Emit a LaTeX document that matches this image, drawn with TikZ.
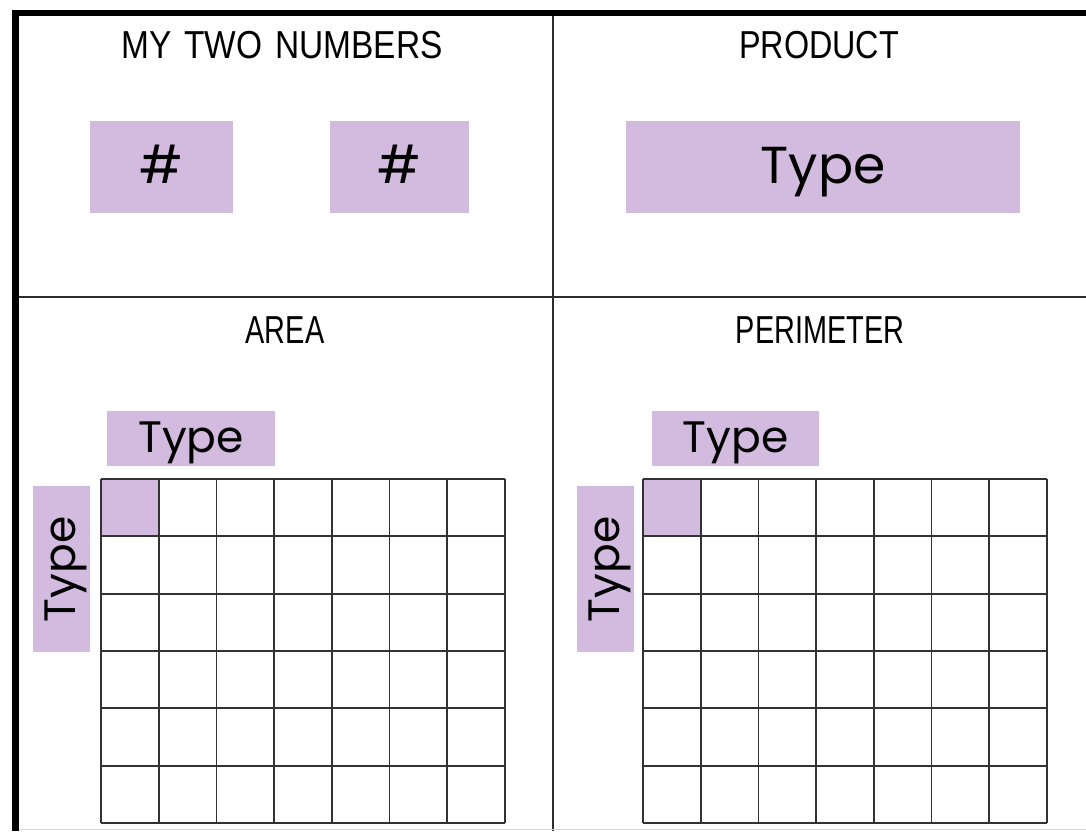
\documentclass[tikz,border=0pt]{standalone}
\usepackage{fontspec}
\setmainfont{Poppins}
\newfontfamily\headfont{Liberation Sans}
\definecolor{lav}{RGB}{211,187,224}
\definecolor{gridc}{RGB}{50,50,50}
\definecolor{divc}{RGB}{45,45,45}
\tikzset{
  box/.style={fill=lav, inner sep=0pt, anchor=north west},
  head/.style={font=\headfont\fontsize{39}{39}\selectfont, xscale=0.74, anchor=base, inner sep=0pt},
  bigtype/.style={font=\fontsize{52}{52}\selectfont, anchor=base, inner sep=0pt},
  smalltype/.style={font=\fontsize{44}{44}\selectfont, anchor=base, inner sep=0pt},
  gridline/.style={draw=gridc, line width=1.8pt},
  divider/.style={draw=divc, line width=2.6pt},
  border/.style={draw=black, line width=6.5pt, line join=miter}
}
\begin{document}
\begin{tikzpicture}[x=1pt,y=-1pt]
\useasboundingbox (0,0) rectangle (1086,831);
\fill[white] (0,0) rectangle (1086,831);

% dividers
\coordinate (vt) at (553,13);
\coordinate (vb) at (553,831);
\coordinate (hl) at (15,297);
\coordinate (hr) at (1086,297);
\draw[divider] (vt) -- (vb);
\draw[divider] (hl) -- (hr);
\draw[black!15, line width=1pt] (19,829.5) -- (1086,829.5);

% border
\coordinate (bl) at (15.5,831);
\coordinate (tl) at (15.5,13);
\coordinate (tr) at (1086,13);
\draw[border] (bl) -- (tl) -- (tr);

% headings
\node[head, xscale=1.16] (h1) at (282,58) {MY\hspace{4pt} TWO\hspace{4pt} NUMBERS};
\node[head, xscale=1.12] (h2) at (819,58) {PRODUCT};
\node[head] (h3) at (285,343) {AREA};
\node[head] (h4) at (820,343) {PERIMETER};

% top boxes
\node[box, minimum width=143pt, minimum height=92pt] (n1) at (90,121) {};
\node[box, minimum width=139pt, minimum height=92pt] (n2) at (330,121) {};
\node[box, minimum width=394pt, minimum height=92pt] (p) at (626,121) {};
\node[bigtype] (n1t) at ([yshift=-16pt]n1.center) {\#};
\node[bigtype] (n2t) at ([yshift=-16pt]n2.center) {\#};
\node[bigtype] (pt) at ([yshift=-16pt]p.center) {Type};

% area labels
\node[box, minimum width=168pt, minimum height=55pt] (at) at (107,411) {};
\node[smalltype] (att) at ([yshift=-14pt]at.center) {Type};
\node[box, minimum width=57pt, minimum height=166pt] (al) at (33,486) {};
\node[smalltype, rotate=90] (alt) at ([xshift=14pt]al.center) {Type};

% perimeter labels
\node[box, minimum width=167pt, minimum height=55pt] (pt2) at (652,411) {};
\node[smalltype] (ptt) at ([yshift=-14pt]pt2.center) {Type};
\node[box, minimum width=57pt, minimum height=166pt] (pl) at (577,486) {};
\node[smalltype, rotate=90] (plt) at ([xshift=14pt]pl.center) {Type};

% grids
\fill[lav] (101,479) rectangle ++(57.714,57.333);
\fill[lav] (643,479) rectangle ++(57.714,57.333);
\foreach \gx in {101,643}{
  \foreach \i in {0,...,7}{
    \draw[gridline] (\gx+\i*57.714,479) -- ++(0,344);
  }
  \foreach \j in {0,...,6}{
    \draw[gridline] (\gx,479+\j*57.333) -- ++(404,0);
  }
}
\end{tikzpicture}
\end{document}
